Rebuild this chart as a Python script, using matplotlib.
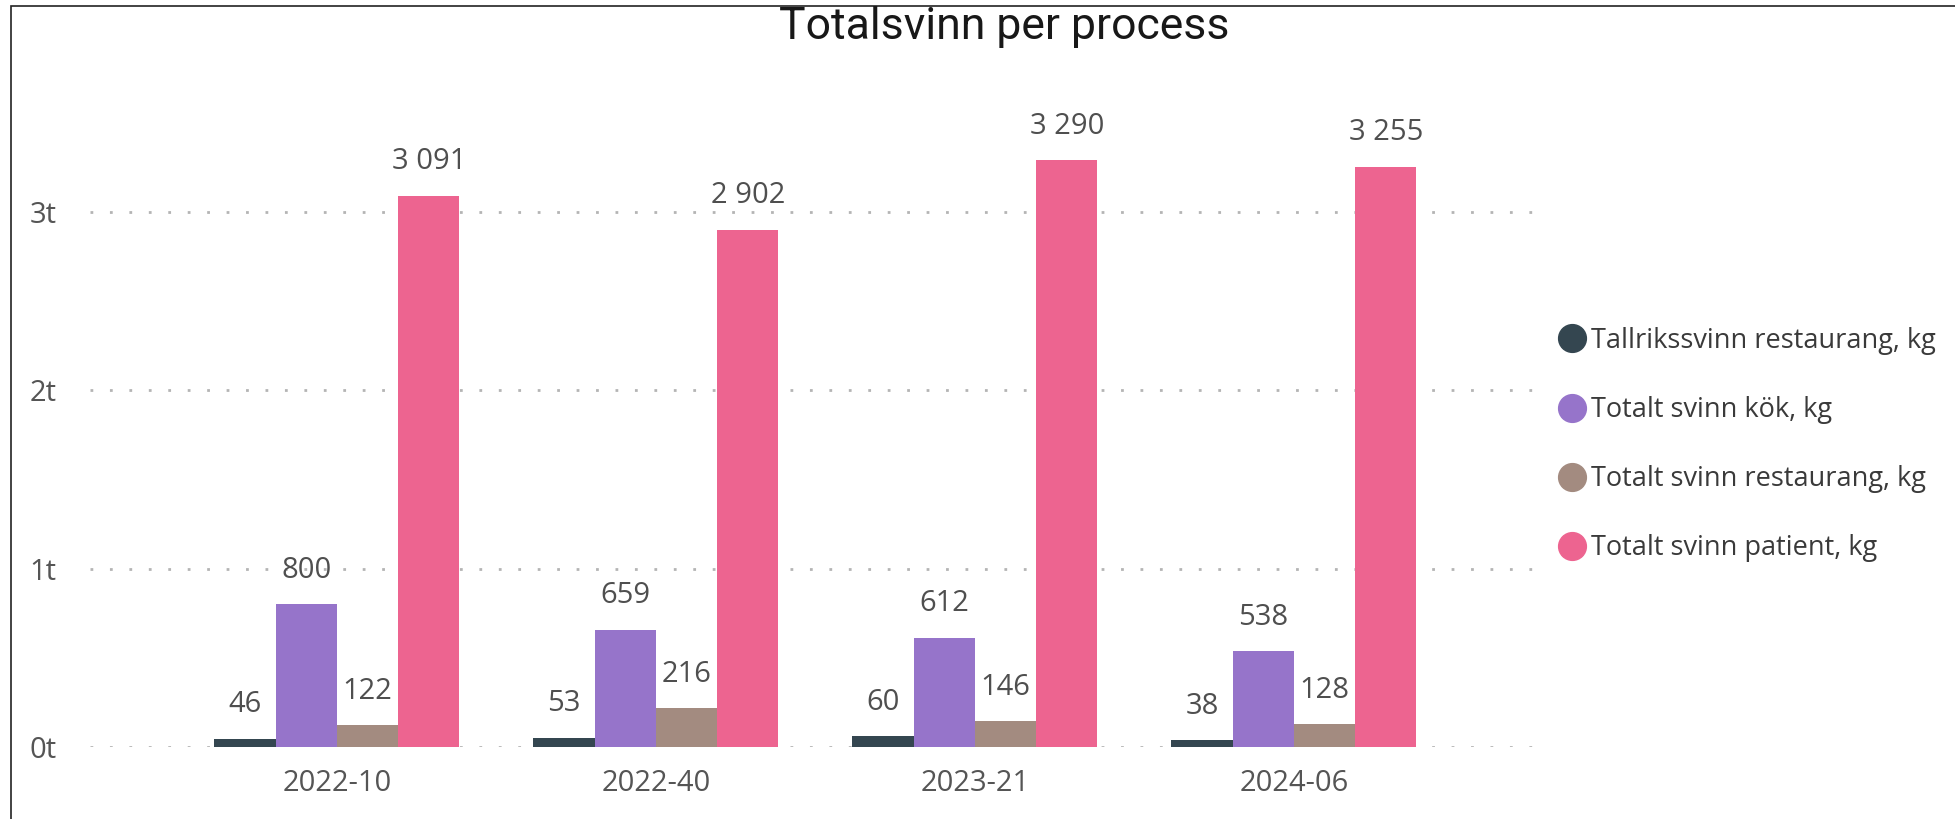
import matplotlib
matplotlib.use("Agg")
import matplotlib.pyplot as plt
from matplotlib.lines import Line2D
from matplotlib.patches import Rectangle
import numpy as np

plt.rcParams['font.family'] = ['Open Sans', 'DejaVu Sans']

categories = ["2022-10", "2022-40", "2023-21", "2024-06"]
series_names = ["Tallrikssvinn restaurang, kg", "Totalt svinn kök, kg",
                "Totalt svinn restaurang, kg", "Totalt svinn patient, kg"]
tallrik = [46, 53, 60, 38]
kok = [800, 659, 612, 538]
restaurang = [122, 216, 146, 128]
patient = [3091, 2902, 3290, 3255]
series_values = [tallrik, kok, restaurang, patient]
colors = ["#344650", "#9674CA", "#A38B80", "#ED6490"]
ytick_vals = [0, 1000, 2000, 3000]
ytick_labels = ["0t", "1t", "2t", "3t"]
title = "Totalsvinn per process"

W, H = 1955, 819
fig = plt.figure(figsize=(W / 100, H / 100), dpi=100)
fig.patch.set_facecolor("white")

ax = fig.add_axes([90 / W, (H - 747) / H, (1546 - 90) / W, 3.7 * 178.3 / H])
x = np.arange(len(categories))
bw = 0.192
for i, (name, vals, c) in enumerate(zip(series_names, series_values, colors)):
    off = (i - 1.5) * bw
    ax.bar(x + off, vals, width=bw, color=c, zorder=2, label=name)
    for xi, v in zip(x + off, vals):
        ax.annotate(f"{v:,}".replace(",", " "), (xi, v), xytext=(0, 14),
                    textcoords="offset points", ha="center", va="bottom",
                    fontsize=21, color="#4f4f4f", zorder=3)

ax.set_xlim(-0.774, 3.79)
ax.set_ylim(0, 3700)
ax.set_yticks(ytick_vals)
ax.set_yticklabels(ytick_labels)
ax.set_xticks(x)
ax.set_xticklabels(categories)
ax.tick_params(axis="both", length=0, labelsize=21, colors="#555555")
ax.tick_params(axis="y", pad=24)
ax.tick_params(axis="x", pad=16)
ax.yaxis.grid(True, color="#B4B4B4", linestyle=(0, (1, 6)), linewidth=2)
ax.set_axisbelow(True)
for s in ax.spines.values():
    s.set_visible(False)
ax.set_facecolor("none")

fig.text(1004 / W, 1 - 27 / H, title, ha="center", va="center",
         fontsize=32, color="#181818", family=["Roboto", "DejaVu Sans"])

handles = [Line2D([], [], marker="o", linestyle="none", markersize=20,
                  markerfacecolor=c, markeredgecolor=c) for c in colors]
fig.legend(handles, series_names, loc="upper left",
           bbox_to_anchor=(1542 / W, 1 - 316 / H), frameon=False,
           fontsize=19.5, labelcolor="#3a3a3a", handletextpad=0.0,
           labelspacing=1.52, handlelength=1.4, borderaxespad=0)

fig.patches.append(Rectangle((11 / W, -0.1), 1.2, 1 - 6 / H + 0.1,
                             transform=fig.transFigure, fill=False,
                             edgecolor="#222222", linewidth=1.2))

fig.savefig("out.png", dpi=100)
